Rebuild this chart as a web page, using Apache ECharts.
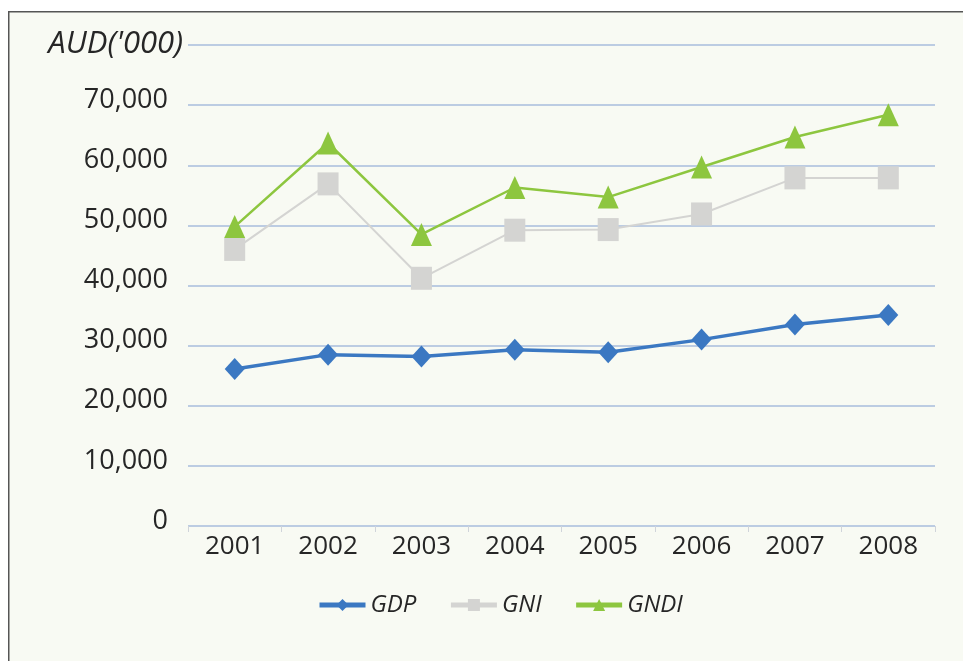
<!DOCTYPE html>
<html>
<head>
<meta charset="utf-8">
<script src="https://cdn.jsdelivr.net/npm/echarts@6/dist/echarts.min.js"></script>
<style>
  html, body { margin: 0; padding: 0; background: #ffffff; }
  #chart { width: 963px; height: 661px; }
</style>
</head>
<body>
<div id="chart"></div>
<script>
// Years on the category axis
const years = ['2001', '2002', '2003', '2004', '2005', '2006', '2007', '2008'];

// National accounts, AUD thousands
const gdp  = [26100, 28500, 28200, 29300, 28900, 31000, 33500, 35100];
const gni  = [46000, 56900, 41200, 49200, 49300, 51900, 57900, 57900];
const gndi = [49800, 63700, 48500, 56300, 54700, 59700, 64700, 68400];

// Value axis ticks; the top tick carries the unit caption
const yTicks = [0, 10000, 20000, 30000, 40000, 50000, 60000, 70000, 80000];
const unitCaption = "AUD('000)";

const FONT = '"Open Sans", "Noto Sans", sans-serif';
const INK = '#262626';
const BLUE = '#3b78c2', GREY = '#d4d4d2', GREEN = '#8dc63f';

const chart = echarts.init(document.getElementById('chart'));

chart.setOption({
  backgroundColor: '#ffffff',
  textStyle: { fontFamily: FONT },
  graphic: [
    {
      type: 'rect',
      left: 8, top: 11,
      shape: { width: 960, height: 660 },
      style: { fill: '#f8faf3', stroke: '#555555', lineWidth: 1.5 },
      z: -10
    }
  ],
  grid: { left: 188, right: 28, top: 45, bottom: 135, containLabel: false },
  xAxis: {
    type: 'category',
    data: years,
    boundaryGap: true,
    axisLine: { show: false },
    axisTick: { show: true, length: 6, lineStyle: { color: '#d0d4da', width: 1 } },
    axisLabel: { color: INK, fontSize: 26, margin: 8, fontFamily: FONT }
  },
  yAxis: {
    type: 'value',
    min: yTicks[0],
    max: yTicks[yTicks.length - 1],
    interval: yTicks[1] - yTicks[0],
    axisLine: { show: false },
    axisTick: { show: false },
    splitLine: { lineStyle: { color: '#a9bddd', width: 1.5 } },
    axisLabel: {
      margin: 5,
      color: INK,
      fontFamily: FONT,
      formatter: function (v) {
        if (v === yTicks[yTicks.length - 1]) return '{unit|' + unitCaption + '}';
        return '{num|' + v.toLocaleString('en-US') + '}';
      },
      rich: {
        num: { fontSize: 27, color: INK, fontFamily: FONT, padding: [0, 15, 10, 0] },
        unit: { fontStyle: 'italic', fontSize: 31, color: INK, fontFamily: FONT, padding: [0, 0, 2, 0] }
      }
    }
  },
  legend: {
    top: 588,
    left: 312,
    itemWidth: 46,
    itemHeight: 15,
    itemGap: 32,
    textStyle: { fontSize: 24, fontStyle: 'italic', color: INK, fontFamily: FONT },
    data: [
      { name: 'GDP',  lineStyle: { width: 5 } },
      { name: 'GNI',  lineStyle: { width: 5 } },
      { name: 'GNDI', lineStyle: { width: 5 } }
    ]
  },
  series: [
    {
      name: 'GNI',
      type: 'line',
      data: gni,
      symbol: 'rect',
      symbolSize: [21, 23],
      lineStyle: { color: GREY, width: 2 },
      itemStyle: { color: GREY },
      z: 2
    },
    {
      name: 'GNDI',
      type: 'line',
      data: gndi,
      symbol: 'triangle',
      symbolSize: [21, 23],
      lineStyle: { color: GREEN, width: 2.5 },
      itemStyle: { color: GREEN },
      z: 3
    },
    {
      name: 'GDP',
      type: 'line',
      data: gdp,
      symbol: 'diamond',
      symbolSize: [20, 22],
      lineStyle: { color: BLUE, width: 3.5 },
      itemStyle: { color: BLUE },
      z: 4
    }
  ]
});
</script>
</body>
</html>
